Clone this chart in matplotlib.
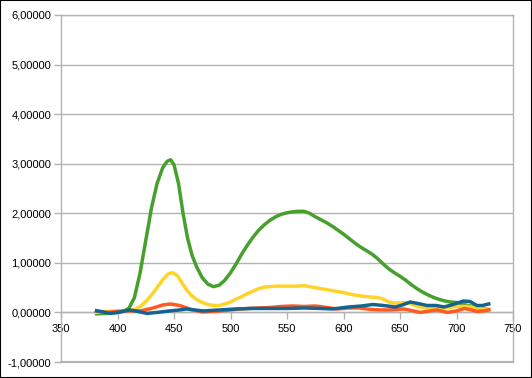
import matplotlib
matplotlib.use("Agg")
import matplotlib.pyplot as plt
from matplotlib.patches import Rectangle
from matplotlib.ticker import FuncFormatter

# green series
green_x = [380, 390, 400, 405, 410, 415, 420, 425, 430, 435, 440, 444, 447, 450, 454, 458,
           462, 466, 470, 475, 480, 485, 490, 495, 500, 505, 510, 515, 520, 525, 530, 535, 540,
           545, 550, 555, 560, 565, 570, 575, 580, 585, 590, 595, 600, 605, 610, 615, 620,
           625, 630, 635, 640, 645, 650, 655, 660, 665, 670, 675, 680, 685, 690, 695, 700,
           705, 710, 715, 720, 725, 730]
green_y = [-0.03, -0.02, 0.0, 0.02, 0.08, 0.30, 0.80, 1.45, 2.1, 2.6, 2.92, 3.05, 3.08, 2.98, 2.6, 2.0,
           1.5, 1.15, 0.92, 0.70, 0.57, 0.52, 0.55, 0.65, 0.80, 0.98, 1.18, 1.36, 1.52, 1.66, 1.77, 1.86, 1.93,
           1.98, 2.01, 2.03, 2.04, 2.04, 2.0, 1.93, 1.87, 1.81, 1.74, 1.66, 1.58, 1.49, 1.40, 1.32, 1.25,
           1.18, 1.09, 0.98, 0.88, 0.80, 0.73, 0.65, 0.56, 0.48, 0.41, 0.35, 0.30, 0.26, 0.23, 0.21, 0.20,
           0.17, 0.14, 0.12, 0.09, 0.07, 0.05]

# yellow series
yellow_x = [380, 390, 400, 410, 415, 420, 425, 430, 435, 440, 445, 449, 453, 457, 461, 465,
            470, 475, 480, 485, 490, 495, 500, 505, 510, 515, 520, 525, 530, 540, 550, 560,
            565, 570, 580, 590, 600, 610, 620, 630, 635, 640, 645, 650, 655, 660, 665, 670,
            680, 690, 700, 710, 720, 730]
yellow_y = [0.0, 0.02, 0.03, 0.03, 0.06, 0.12, 0.22, 0.35, 0.50, 0.66, 0.78, 0.80, 0.74, 0.60, 0.46, 0.35,
            0.26, 0.20, 0.16, 0.14, 0.14, 0.17, 0.21, 0.27, 0.32, 0.38, 0.43, 0.48, 0.51, 0.53, 0.53, 0.53,
            0.54, 0.52, 0.48, 0.44, 0.40, 0.35, 0.32, 0.30, 0.27, 0.21, 0.19, 0.19, 0.20, 0.17, 0.12, 0.10,
            0.10, 0.09, 0.12, 0.12, 0.08, 0.05]

# orange series
orange_x = [380, 390, 400, 410, 420, 430, 440, 447, 455, 465, 475, 485, 495, 505, 515, 525,
            535, 545, 555, 565, 575, 585, 594, 604, 614, 624, 632, 642, 653, 660, 668, 676,
            683, 692, 700, 707, 713, 718, 724, 730]
orange_y = [0.03, 0.0, 0.02, 0.03, 0.03, 0.08, 0.15, 0.17, 0.14, 0.06, 0.01, 0.02, 0.04, 0.06, 0.08, 0.09,
            0.10, 0.12, 0.13, 0.12, 0.13, 0.10, 0.07, 0.09, 0.09, 0.06, 0.05, 0.05, 0.07, 0.04, 0.0, 0.03,
            0.05, 0.0, 0.03, 0.08, 0.05, 0.02, 0.03, 0.06]

# blue series
blue_x = [380, 385, 393, 400, 411, 418, 426, 435, 446, 455, 461, 468, 476, 490, 505, 520,
          535, 550, 565, 580, 590, 605, 616, 626, 635, 646, 652, 659, 666, 674, 682, 689,
          697, 706, 712, 718, 723, 730]
blue_y = [0.04, 0.02, -0.02, 0.0, 0.05, 0.02, -0.02, 0.0, 0.03, 0.05, 0.07, 0.05, 0.03, 0.05, 0.07, 0.08,
          0.08, 0.08, 0.09, 0.08, 0.07, 0.11, 0.13, 0.16, 0.14, 0.11, 0.15, 0.21, 0.18, 0.14, 0.14, 0.11,
          0.16, 0.23, 0.22, 0.14, 0.14, 0.18]

x_ticks = [350, 400, 450, 500, 550, 600, 650, 700, 750]
y_ticks = [-1, 0, 1, 2, 3, 4, 5, 6]

plt.rcParams['font.family'] = ['Liberation Sans', 'DejaVu Sans']
grid_c = '#b3b3b3'

fig = plt.figure(figsize=(5.32, 3.78), dpi=100)
ax = fig.add_axes([61 / 532, 1 - 362 / 378, 452 / 532, 347 / 378])

for xs, ys, c in [(green_x, green_y, '#47a02c'), (yellow_x, yellow_y, '#ffd42a'),
                  (orange_x, orange_y, '#ff5a22'), (blue_x, blue_y, '#15648f')]:
    ax.plot(xs, ys, color=c, lw=2.5, solid_joinstyle='round', solid_capstyle='butt', zorder=3)

ax.set_xlim(350, 750)
ax.set_ylim(-1, 6)
ax.set_xticks(x_ticks)
ax.set_yticks(y_ticks)
ax.yaxis.set_major_formatter(FuncFormatter(lambda v, p: f"{v:.5f}".replace('.', ',')))
ax.grid(axis='y', color=grid_c, lw=1)
ax.set_axisbelow(True)

ax.spines['bottom'].set_position(('data', 0))
for s in ax.spines.values():
    s.set_color(grid_c)
    s.set_linewidth(1)
ax.axhline(-1, color=grid_c, lw=1.5, clip_on=False, zorder=1)

ax.tick_params(axis='both', colors=grid_c, labelcolor='black', labelsize=8, length=5, width=1)
ax.tick_params(axis='y', pad=2)
ax.tick_params(axis='x', pad=3)

fig.patches.append(Rectangle((0, 0), 1, 1, transform=fig.transFigure, fill=False,
                             edgecolor='black', lw=1.5))

fig.savefig('out.png', dpi=100)
